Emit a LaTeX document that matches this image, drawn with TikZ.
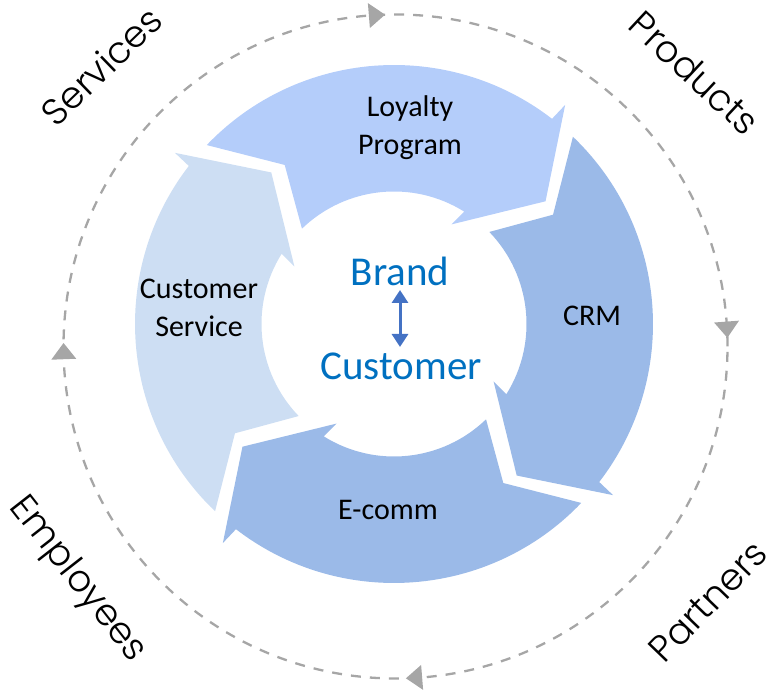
\documentclass[tikz,border=0pt]{standalone}
\usepackage{fontspec}
\setmainfont{Carlito}
\newfontfamily\lblfont{Poppins Light}
\usetikzlibrary{arrows.meta}
\definecolor{loy}{RGB}{180,205,250}
\definecolor{crm}{RGB}{155,186,232}
\definecolor{cs}{RGB}{205,222,243}
\definecolor{brandblue}{RGB}{0,112,192}
\definecolor{arrblue}{RGB}{68,114,196}
\definecolor{dgray}{RGB}{166,166,166}
\newcommand{\cycarrow}[2]{\fill[#2] ({#1+97.3}:259) arc[start angle={#1+97.3}, end angle={#1+13.4}, radius=259] -- ({#1+13}:278) -- (#1:195) -- ({#1+21}:115) -- ({#1+19}:132.5) arc[start angle={#1+19}, end angle={#1+95}, radius=132.5] -- ({#1+85.5}:193) -- cycle;}
\newcommand{\dashtip}[1]{\fill[dgray] (#1:332) -- ({#1+2.8}:344.5) -- ({#1+2.8}:319.5) -- cycle;}
\begin{document}
\begin{tikzpicture}[x=1pt,y=1pt,
  steplabel/.style={font=\fontsize{30}{38}\selectfont, align=center, inner sep=0pt, text=black},
  centerlabel/.style={font=\fontsize{41}{46}\selectfont, inner sep=0pt, text=brandblue},
  outerlabel/.style={font=\lblfont\fontsize{37}{42}\selectfont, inner sep=0pt, text=black},
  dbl/.style={arrblue, line width=3pt, {Triangle[width=16pt,length=13pt]}-{Triangle[width=16pt,length=13pt]}}]
\useasboundingbox (0,0) rectangle (777,695);
\begin{scope}[shift={(394,371)}]
  \cycarrow{39}{loy}
  \cycarrow{-51}{crm}
  \cycarrow{-141}{crm}
  \cycarrow{129}{cs}
\end{scope}
\begin{scope}[shift={(395.5,348.5)}]
  \draw[dgray, line width=2.3pt, dash pattern=on 10pt off 9pt] (0,0) circle[radius=332];
  \dashtip{91.8}
  \dashtip{1.5}
  \dashtip{-88.2}
  \dashtip{179.4}
\end{scope}
\node[steplabel] (loyalty) at (410,567) {Loyalty\\Program};
\node[steplabel] (crmtext) at (592,379) {CRM};
\node[steplabel] (ecomm) at (388,185) {E-comm};
\node[steplabel] (service) at (199,387) {Customer\\Service};
\node[centerlabel] (brand) at (400,424) {Brand};
\node[centerlabel] (customer) at (401,329) {Customer};
\coordinate (bt) at (400,405);
\coordinate (bb) at (400,348);
\draw[dbl] (bt) -- (bb);
\node[outerlabel, rotate=44] (services) at (101,629) {Services};
\node[outerlabel, rotate=-43] (products) at (695,622) {Products};
\node[outerlabel, rotate=46] (partners) at (708,94) {Partners};
\node[outerlabel, rotate=-52] (employees) at (77,115) {Employees};
\end{tikzpicture}
\end{document}
